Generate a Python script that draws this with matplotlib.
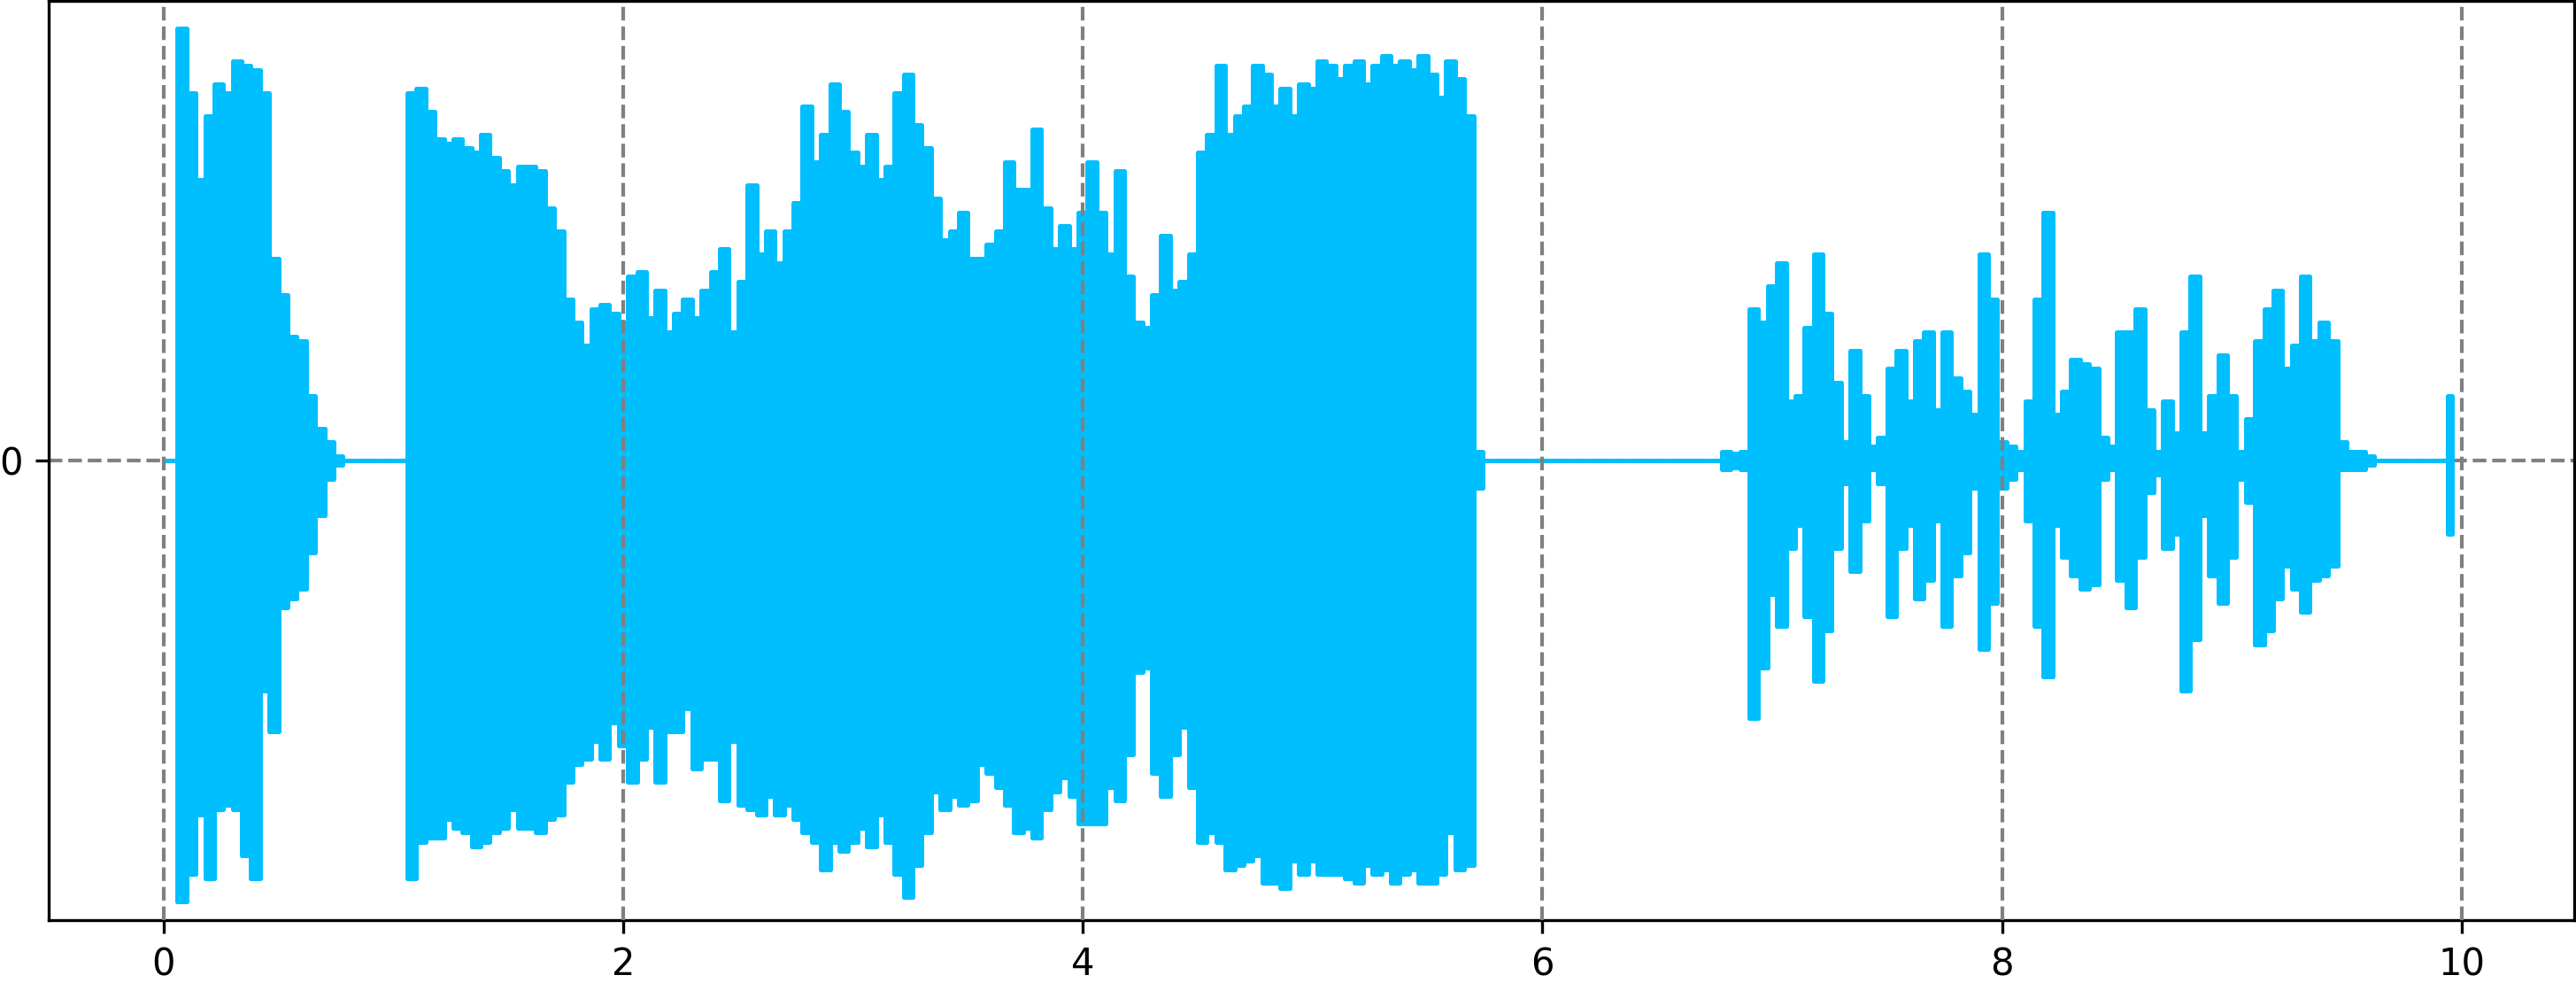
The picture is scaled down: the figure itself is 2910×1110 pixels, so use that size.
import numpy as np
import matplotlib
matplotlib.use("Agg")
import matplotlib.pyplot as plt

# envelope of the waveform, one value every 0.04 s
sample_step = 0.04

upper = [
    0, 0, 0.94, 0.80, 0.61, 0.75, 0.82, 0.80, 0.87, 0.86,
    0.85, 0.80, 0.44, 0.36, 0.27, 0.26, 0.14, 0.07, 0.04, 0.01,
    0, 0, 0, 0, 0, 0, 0, 0.80, 0.81, 0.76,
    0.70, 0.69, 0.70, 0.68, 0.67, 0.71, 0.66, 0.63, 0.60, 0.64,
    0.64, 0.63, 0.55, 0.50, 0.35, 0.30, 0.25, 0.33, 0.34, 0.32,
    0.30, 0.40, 0.41, 0.31, 0.37, 0.28, 0.32, 0.35, 0.31, 0.37,
    0.41, 0.46, 0.28, 0.39, 0.60, 0.45, 0.50, 0.43, 0.50, 0.56,
    0.77, 0.65, 0.71, 0.82, 0.76, 0.67, 0.64, 0.71, 0.61, 0.64,
    0.80, 0.84, 0.73, 0.68, 0.57, 0.48, 0.50, 0.54, 0.44, 0.44,
    0.47, 0.50, 0.65, 0.59, 0.59, 0.72, 0.55, 0.46, 0.51, 0.46,
    0.54, 0.65, 0.54, 0.45, 0.63, 0.40, 0.30, 0.29, 0.36, 0.49,
    0.37, 0.39, 0.45, 0.67, 0.71, 0.86, 0.71, 0.75, 0.77, 0.86,
    0.84, 0.77, 0.81, 0.75, 0.82, 0.81, 0.87, 0.86, 0.83, 0.86,
    0.87, 0.82, 0.86, 0.88, 0.86, 0.87, 0.85, 0.88, 0.84, 0.79,
    0.87, 0.83, 0.75, 0.02, 0, 0, 0, 0, 0, 0,
    0, 0, 0, 0, 0, 0, 0, 0, 0, 0,
    0, 0, 0, 0, 0, 0, 0, 0, 0, 0,
    0.02, 0.015, 0.02, 0.33, 0.30, 0.38, 0.43, 0.13, 0.14, 0.29,
    0.45, 0.32, 0.17, 0.04, 0.24, 0.14, 0.03, 0.05, 0.20, 0.24,
    0.13, 0.26, 0.28, 0.11, 0.28, 0.18, 0.15, 0.10, 0.45, 0.35,
    0.04, 0.03, 0.02, 0.13, 0.35, 0.54, 0.10, 0.15, 0.22, 0.21,
    0.20, 0.05, 0.03, 0.28, 0.28, 0.33, 0.11, 0.02, 0.13, 0.06,
    0.28, 0.40, 0.06, 0.14, 0.23, 0.14, 0.02, 0.09, 0.26, 0.33,
    0.37, 0.20, 0.25, 0.40, 0.26, 0.30, 0.26, 0.04, 0.02, 0.02,
    0.01, 0, 0, 0, 0, 0, 0, 0, 0, 0.14,
]

lower = [
    0, 0, -0.96, -0.90, -0.77, -0.91, -0.76, -0.75, -0.76, -0.86,
    -0.91, -0.50, -0.59, -0.32, -0.30, -0.28, -0.20, -0.12, -0.04, -0.01,
    0, 0, 0, 0, 0, 0, 0, -0.91, -0.83, -0.82,
    -0.82, -0.78, -0.80, -0.81, -0.84, -0.83, -0.81, -0.80, -0.76, -0.80,
    -0.80, -0.81, -0.78, -0.77, -0.70, -0.66, -0.65, -0.61, -0.65, -0.57,
    -0.62, -0.70, -0.65, -0.58, -0.70, -0.59, -0.59, -0.54, -0.67, -0.65,
    -0.65, -0.74, -0.61, -0.75, -0.76, -0.77, -0.73, -0.77, -0.75, -0.78,
    -0.81, -0.83, -0.89, -0.83, -0.85, -0.83, -0.80, -0.84, -0.77, -0.83,
    -0.90, -0.95, -0.88, -0.81, -0.72, -0.76, -0.73, -0.75, -0.74, -0.66,
    -0.68, -0.71, -0.75, -0.81, -0.80, -0.82, -0.76, -0.72, -0.69, -0.73,
    -0.79, -0.79, -0.79, -0.71, -0.74, -0.64, -0.46, -0.45, -0.68, -0.73,
    -0.64, -0.58, -0.71, -0.83, -0.81, -0.83, -0.89, -0.88, -0.87, -0.86,
    -0.92, -0.92, -0.93, -0.87, -0.90, -0.87, -0.90, -0.90, -0.90, -0.91,
    -0.92, -0.88, -0.90, -0.89, -0.92, -0.90, -0.89, -0.92, -0.92, -0.90,
    -0.81, -0.89, -0.88, -0.06, 0, 0, 0, 0, 0, 0,
    0, 0, 0, 0, 0, 0, 0, 0, 0, 0,
    0, 0, 0, 0, 0, 0, 0, 0, 0, 0,
    -0.02, -0.015, -0.02, -0.56, -0.45, -0.29, -0.36, -0.19, -0.14, -0.34,
    -0.48, -0.37, -0.19, -0.05, -0.24, -0.13, -0.02, -0.05, -0.34, -0.19,
    -0.14, -0.30, -0.26, -0.13, -0.36, -0.25, -0.20, -0.06, -0.41, -0.31,
    -0.06, -0.04, -0.02, -0.13, -0.36, -0.47, -0.14, -0.21, -0.25, -0.28,
    -0.27, -0.04, -0.02, -0.26, -0.32, -0.21, -0.07, -0.03, -0.19, -0.16,
    -0.50, -0.39, -0.12, -0.25, -0.31, -0.21, -0.04, -0.09, -0.40, -0.37,
    -0.30, -0.23, -0.28, -0.33, -0.26, -0.25, -0.23, -0.02, -0.02, -0.02,
    -0.01, 0, 0, 0, 0, 0, 0, 0, 0, -0.16,
]

x_ticks = [0, 2, 4, 6, 8, 10]
y_ticks = [0]

# ---- plot ----
times = np.arange(len(upper)) * sample_step

fig, ax = plt.subplots(figsize=(9.7, 3.7), dpi=300)
fig.subplots_adjust(left=55 / 2910, right=2908 / 2910, bottom=1 - 1039 / 1110, top=0.999)

ax.axhline(0, linestyle='--', color='gray', linewidth=1, zorder=0)
ax.fill_between(times, lower, upper, step='mid', color='deepskyblue',
                edgecolor='deepskyblue', linewidth=1.2, zorder=1)

ax.set_xlim(-0.5, 10.49)
ax.set_ylim(-1, 1)
ax.set_xticks(x_ticks)
ax.set_yticks(y_ticks)
ax.set_axisbelow(False)
ax.grid(True, axis='x', linestyle='--', color='gray', linewidth=1)

plt.savefig('out.png', dpi=300)
